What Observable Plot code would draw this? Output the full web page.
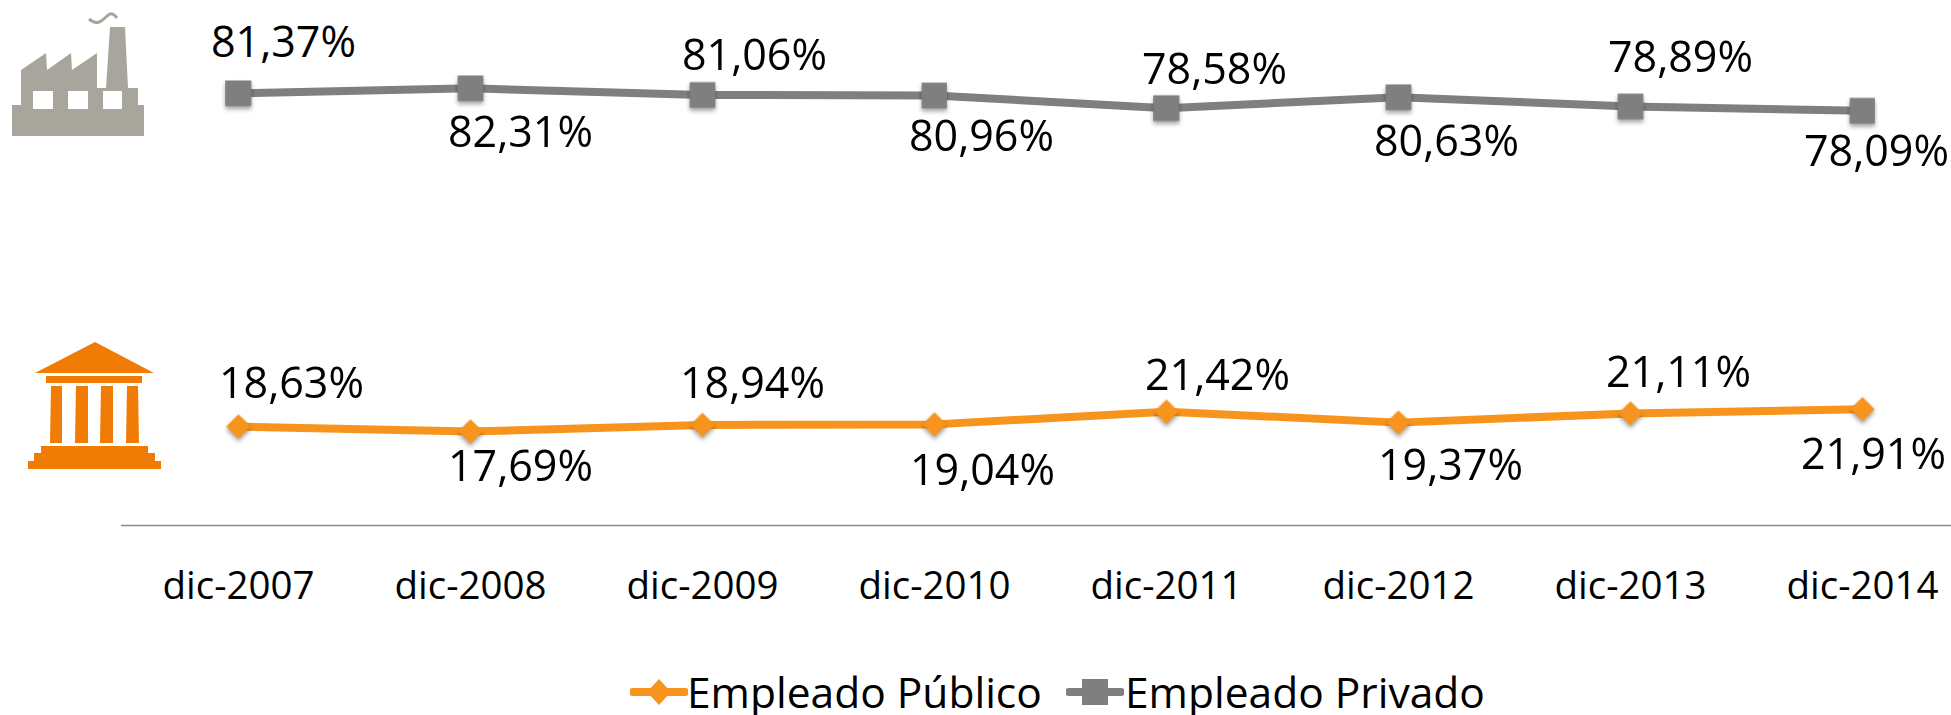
<!DOCTYPE html>
<html lang="es">
<head>
<meta charset="utf-8">
<script src="https://cdn.jsdelivr.net/npm/d3@7"></script>
<script src="https://cdn.jsdelivr.net/npm/@observablehq/plot@0.6"></script>
<style>
html,body{margin:0;padding:0;background:#fff;width:1951px;height:715px;overflow:hidden;font-family:"Open Sans",sans-serif}
#wrap{position:relative;width:1951px;height:715px}
.icon{position:absolute;left:0;top:0}
#legend{position:absolute;left:0;top:661px;width:1951px;height:54px;font-size:42.5px;color:#000;line-height:62px;white-space:nowrap}
#legend span,#legend svg{position:absolute;top:0}
</style>
</head>
<body>
<div id="wrap">
<div id="chart"></div>
<svg class="icon" width="200" height="500" viewBox="0 0 200 500">
  <path fill="#a8a69c" fill-rule="evenodd" d="M12 136V105H21V70L46 53L47 70L71 53L72 70L97 53V88H106L110 27H125L128 88H138V105H144V136ZM33 91V109H53V91ZM68 91V109H88V91ZM103 91V109H122V91Z"/>
  <path fill="none" stroke="#a8a69c" stroke-width="3" d="M89 19C97 26 102 21 107 16C111 12 114 14 117 18"/>
  <path fill="#f07b05" d="M35 373L95 342L154 373ZM46 376H142V383H46ZM51 386H62V443H50ZM76 386H88V443H75ZM101 386H113V443H100ZM127 386H138L139 443H126ZM41 446H148V453H155V461H161V469H28V461H34V453H41Z"/>
</svg>
<div id="legend">
  <svg style="left:630px" width="58" height="62" viewBox="0 0 58 62">
    <path d="M3 31H55" stroke="#f7941e" stroke-width="8" stroke-linecap="round"/>
    <path d="M29 18L41 31L29 44L17 31Z" fill="#f7941e"/>
  </svg>
  <span style="left:687px">Empleado Público</span>
  <svg style="left:1066px" width="58" height="62" viewBox="0 0 58 62">
    <path d="M3 31H55" stroke="#7f7f7f" stroke-width="8" stroke-linecap="round"/>
    <rect x="16" y="18" width="26" height="26" fill="#7f7f7f"/>
  </svg>
  <span style="left:1125px">Empleado Privado</span>
</div>
</div>
<script>
const fechas = ["dic-2007","dic-2008","dic-2009","dic-2010","dic-2011","dic-2012","dic-2013","dic-2014"];
const empleadoPrivado = [81.37,82.31,81.06,80.96,78.58,80.63,78.89,78.09];
const empleadoPublico = [18.63,17.69,18.94,19.04,21.42,19.37,21.11,21.91];
const colorPrivado = "#7f7f7f";
const colorPublico = "#f7941e";

// label nudges (pixels) from each point, kept apart from the values
const nudgePrivado = [[45,-50],[50,45],[52,-39],[47,42],[48,-38],[48,45],[50,-48],[14,41]];
const nudgePublico = [[53,-42],[50,36],[50,-41],[48,47],[51,-36],[52,44],[48,-40],[11,46]];

const fmt = v => v.toFixed(2).replace(".", ",") + "%";
const tabla = (vals) => fechas.map((f,i) => ({fecha:f, valor:vals[i]}));
const privado = tabla(empleadoPrivado);
const publico = tabla(empleadoPublico);

const labels = (rows, nudges) => rows.map((d,i) => Plot.text([d], {
  x:"fecha", y:"valor", text:d => fmt(d.valor),
  dx:nudges[i][0], dy:nudges[i][1],
  fontSize:43, fill:"#000", textAnchor:"middle", lineAnchor:"middle"
}));

const shadow = "drop-shadow(0 3px 2px rgba(0,0,0,.35))";

const chart = Plot.plot({
  width:1951, height:650,
  marginLeft:121, marginRight:0, marginTop:0, marginBottom:125,
  style:{fontFamily:'"Open Sans",sans-serif', background:"transparent", overflow:"visible"},
  x:{type:"point", domain:fechas, range:[238,1862], padding:0, label:null},
  y:{domain:[0,90], range:[525,47], axis:null},
  marks:[
    Plot.ruleY([0], {stroke:"#8c8c8c", strokeWidth:1.5}),
    Plot.axisX({tickSize:0, tickPadding:46, fontSize:38.5, fill:"#000", label:null}),
    Plot.lineY(privado, {x:"fecha", y:"valor", stroke:colorPrivado, strokeWidth:8}),
    Plot.lineY(publico, {x:"fecha", y:"valor", stroke:colorPublico, strokeWidth:8}),
    Plot.dot(privado, {x:"fecha", y:"valor", symbol:"square", r:14.5, fill:colorPrivado, imageFilter:shadow}),
    Plot.dot(publico, {x:"fecha", y:"valor", symbol:"diamond2", r:11, fill:colorPublico, imageFilter:shadow}),
    ...labels(privado, nudgePrivado),
    ...labels(publico, nudgePublico)
  ]
});
document.getElementById("chart").appendChild(chart);
</script>
</body>
</html>
